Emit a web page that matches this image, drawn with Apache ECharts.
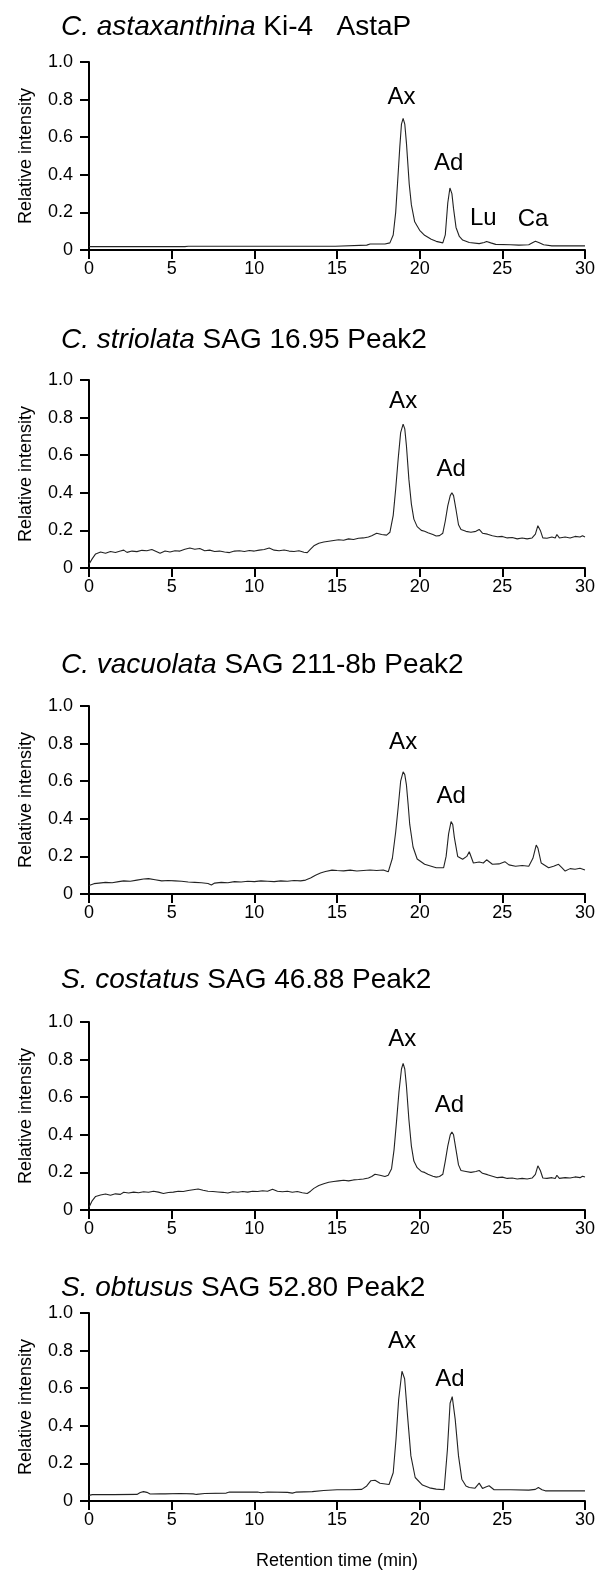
<!DOCTYPE html>
<html>
<head>
<meta charset="utf-8">
<script src="https://cdn.jsdelivr.net/npm/echarts@6/dist/echarts.min.js"></script>
<style>
  html, body { margin: 0; padding: 0; background: #fff; }
  #main { width: 598px; height: 1571px; }
</style>
</head>
<body>
<div id="main"></div>
<script>
// panel titles: [italic species, rest]
var speciesNames = ['C. astaxanthina', 'C. striolata', 'C. vacuolata', 'S. costatus', 'S. obtusus'];
var strainNames = ['Ki-4   AstaP', 'SAG 16.95 Peak2', 'SAG 211-8b Peak2', 'SAG 46.88 Peak2', 'SAG 52.80 Peak2'];

var xTicks = [0, 5, 10, 15, 20, 25, 30];
var yTicks = [0, 0.2, 0.4, 0.6, 0.8, 1.0];

// chromatograms, [retention time (min), relative intensity]
var traceAstaxanthina = [[0,0.018],[3,0.018],[5.8,0.018],[6.0,0.02],[8.5,0.02],[9.5,0.02],[12,0.02],[14.9,0.02],
  [15.0,0.026],[16.8,0.026],[17.0,0.032],[17.9,0.032],[18.2,0.038],[18.4,0.08],[18.55,0.2],[18.68,0.38],[18.8,0.55],[18.9,0.67],
  [19.0,0.70],[19.1,0.67],[19.2,0.57],[19.37,0.35],[19.5,0.24],[19.7,0.15],[20.0,0.105],[20.3,0.078],[20.7,0.057],[21.0,0.046],
  [21.4,0.038],[21.55,0.08],[21.7,0.25],[21.83,0.33],[21.95,0.3],[22.05,0.22],[22.2,0.12],[22.4,0.072],[22.6,0.053],[23.0,0.04],
  [23.6,0.034],[23.9,0.04],[24.05,0.045],[24.3,0.038],[24.6,0.03],[25.5,0.028],[26.0,0.026],[26.6,0.028],[26.85,0.04],[27.0,0.046],
  [27.2,0.04],[27.5,0.028],[28,0.022],[30,0.022]];

var traceStriolata = [[0,0.02],[0.2,0.05],[0.4,0.075],[0.7,0.085],[1.0,0.078],[1.3,0.088],[1.6,0.082],[1.9,0.09],[2.1,0.095],[2.3,0.083],
  [2.6,0.09],[2.9,0.087],[3.2,0.094],[3.5,0.092],[3.8,0.098],[4.0,0.09],[4.3,0.078],[4.6,0.09],[4.9,0.085],[5.2,0.092],[5.5,0.09],
  [5.8,0.1],[6.1,0.106],[6.4,0.1],[6.7,0.104],[7.0,0.092],[7.3,0.095],[7.6,0.088],[7.9,0.09],[8.2,0.085],[8.5,0.082],[8.8,0.09],
  [9.1,0.092],[9.4,0.088],[9.7,0.093],[10.0,0.09],[10.3,0.095],[10.6,0.098],[10.9,0.106],[11.2,0.095],[11.5,0.092],[11.8,0.096],
  [12.1,0.09],[12.4,0.088],[12.7,0.092],[13.0,0.084],[13.2,0.082],[13.4,0.1],[13.6,0.118],[13.9,0.132],[14.2,0.138],[14.5,0.142],
  [14.8,0.146],[15.1,0.15],[15.4,0.148],[15.7,0.155],[16.0,0.152],[16.3,0.158],[16.6,0.16],[16.9,0.165],[17.1,0.172],[17.4,0.185],
  [17.7,0.178],[18.0,0.175],[18.2,0.19],[18.4,0.28],[18.55,0.42],[18.7,0.58],[18.85,0.72],[19.0,0.765],[19.1,0.74],[19.2,0.65],
  [19.35,0.47],[19.5,0.34],[19.65,0.26],[19.85,0.22],[20.1,0.2],[20.3,0.195],[20.5,0.188],[20.8,0.178],[21.0,0.17],[21.2,0.172],
  [21.4,0.185],[21.55,0.25],[21.7,0.33],[21.85,0.385],[21.95,0.4],[22.05,0.385],[22.2,0.31],[22.35,0.23],[22.5,0.205],[22.8,0.195],
  [23.1,0.19],[23.4,0.195],[23.6,0.205],[23.8,0.185],[24.1,0.18],[24.4,0.172],[24.7,0.166],[25.0,0.168],[25.3,0.16],[25.6,0.162],
  [25.9,0.155],[26.2,0.16],[26.5,0.155],[26.8,0.16],[27.0,0.18],[27.15,0.225],[27.3,0.2],[27.45,0.16],[27.7,0.158],[28.0,0.165],
  [28.2,0.16],[28.3,0.178],[28.45,0.16],[28.8,0.165],[29.1,0.16],[29.4,0.168],[29.7,0.165],[29.85,0.172],[30,0.165]];

var traceVacuolata = [[0,0.045],[0.3,0.055],[0.6,0.058],[1.0,0.062],[1.4,0.06],[1.8,0.066],[2.1,0.07],[2.5,0.068],[2.9,0.074],[3.3,0.08],
  [3.6,0.082],[4.0,0.076],[4.4,0.07],[4.8,0.072],[5.2,0.07],[5.6,0.068],[6.0,0.064],[6.4,0.062],[6.8,0.06],[7.2,0.056],[7.4,0.048],
  [7.6,0.058],[8.0,0.062],[8.4,0.06],[8.8,0.066],[9.2,0.064],[9.6,0.068],[10.0,0.066],[10.4,0.07],[10.8,0.068],[11.2,0.066],[11.6,0.07],
  [12.0,0.068],[12.4,0.072],[12.8,0.07],[13.1,0.074],[13.4,0.085],[13.7,0.1],[14.0,0.112],[14.3,0.12],[14.7,0.127],[15.0,0.125],
  [15.4,0.123],[15.8,0.127],[16.2,0.122],[16.6,0.125],[17.0,0.128],[17.4,0.125],[17.8,0.128],[18.1,0.118],[18.35,0.19],[18.55,0.33],
  [18.7,0.46],[18.85,0.6],[19.0,0.65],[19.1,0.635],[19.2,0.58],[19.3,0.48],[19.4,0.37],[19.6,0.25],[19.85,0.186],[20.3,0.158],
  [21.0,0.14],[21.45,0.14],[21.6,0.2],[21.75,0.32],[21.9,0.385],[22.0,0.37],[22.1,0.3],[22.3,0.2],[22.6,0.185],[22.85,0.2],[23.0,0.225],
  [23.25,0.165],[23.6,0.17],[23.85,0.165],[24.05,0.182],[24.4,0.158],[24.8,0.16],[25.15,0.172],[25.4,0.155],[25.8,0.148],[26.2,0.152],
  [26.6,0.148],[26.85,0.19],[27.05,0.26],[27.15,0.245],[27.35,0.165],[27.8,0.14],[28.1,0.148],[28.4,0.158],[28.6,0.14],[28.8,0.122],
  [29.1,0.135],[29.4,0.132],[29.7,0.137],[30,0.128]];

var traceCostatus = [[0,0.015],[0.2,0.05],[0.4,0.072],[0.7,0.08],[1.0,0.085],[1.3,0.078],[1.6,0.086],[1.9,0.083],[2.1,0.094],[2.4,0.09],
  [2.7,0.095],[3.0,0.092],[3.3,0.097],[3.6,0.094],[3.9,0.1],[4.2,0.095],[4.5,0.088],[4.8,0.093],[5.1,0.095],[5.4,0.1],[5.7,0.098],
  [6.0,0.104],[6.3,0.108],[6.6,0.112],[6.9,0.105],[7.2,0.1],[7.5,0.098],[7.8,0.096],[8.1,0.094],[8.4,0.09],[8.7,0.097],[9.0,0.094],
  [9.3,0.098],[9.6,0.095],[9.9,0.1],[10.2,0.098],[10.5,0.102],[10.8,0.1],[11.1,0.11],[11.4,0.1],[11.7,0.097],[12.0,0.1],[12.3,0.094],
  [12.6,0.098],[12.9,0.092],[13.2,0.088],[13.4,0.1],[13.6,0.115],[13.9,0.13],[14.2,0.14],[14.5,0.148],[14.8,0.152],[15.1,0.155],
  [15.4,0.158],[15.7,0.155],[16.0,0.16],[16.3,0.162],[16.6,0.165],[16.9,0.17],[17.1,0.178],[17.3,0.19],[17.6,0.185],[17.9,0.178],
  [18.1,0.185],[18.3,0.22],[18.45,0.32],[18.6,0.47],[18.75,0.63],[18.9,0.75],[19.0,0.78],[19.1,0.75],[19.2,0.66],[19.35,0.48],
  [19.5,0.34],[19.65,0.26],[19.85,0.225],[20.1,0.205],[20.3,0.2],[20.5,0.19],[20.8,0.18],[21.0,0.175],[21.2,0.178],[21.4,0.19],
  [21.55,0.26],[21.7,0.34],[21.85,0.4],[21.95,0.415],[22.05,0.4],[22.2,0.32],[22.35,0.24],[22.5,0.21],[22.8,0.205],[23.1,0.2],
  [23.4,0.205],[23.6,0.21],[23.8,0.195],[24.1,0.188],[24.4,0.18],[24.7,0.172],[25.0,0.175],[25.3,0.168],[25.6,0.17],[25.9,0.165],
  [26.2,0.168],[26.5,0.165],[26.8,0.17],[27.0,0.19],[27.15,0.235],[27.3,0.21],[27.45,0.17],[27.7,0.168],[28.0,0.172],[28.2,0.168],
  [28.3,0.185],[28.45,0.168],[28.8,0.172],[29.1,0.17],[29.4,0.176],[29.7,0.172],[29.85,0.18],[30,0.175]];

var traceObtusus = [[0,0.03],[0.2,0.034],[1.5,0.034],[2.9,0.035],[3.1,0.045],[3.3,0.05],[3.5,0.046],[3.7,0.037],[4.3,0.038],[4.4,0.032],
  [4.6,0.038],[5.5,0.04],[6.3,0.038],[6.5,0.035],[7.0,0.04],[8.3,0.042],[8.5,0.048],[9.0,0.047],[10.2,0.048],[10.4,0.044],[10.8,0.048],
  [12.0,0.046],[12.3,0.042],[12.5,0.047],[13.5,0.05],[14.2,0.056],[15.0,0.06],[15.8,0.06],[16.5,0.062],[16.8,0.08],[17.05,0.108],
  [17.3,0.11],[17.6,0.094],[18.15,0.088],[18.4,0.15],[18.57,0.33],[18.73,0.54],[18.93,0.69],[19.09,0.65],[19.27,0.45],[19.47,0.24],
  [19.73,0.125],[20.17,0.085],[20.6,0.07],[21.0,0.063],[21.48,0.06],[21.68,0.275],[21.84,0.52],[21.97,0.555],[22.15,0.434],[22.35,0.24],
  [22.55,0.116],[22.8,0.08],[23.0,0.072],[23.35,0.068],[23.6,0.095],[23.8,0.067],[24.0,0.075],[24.2,0.081],[24.5,0.06],[25.5,0.06],
  [26.6,0.058],[27.0,0.062],[27.18,0.072],[27.4,0.06],[27.6,0.054],[30,0.054]];

// peak labels, [name, time, intensity]
var peaksAstaxanthina = [['Ax', 18.9, 0.81], ['Ad', 21.75, 0.46], ['Lu', 23.85, 0.168], ['Ca', 26.86, 0.165]];
var peaksStriolata = [['Ax', 19.0, 0.885], ['Ad', 21.9, 0.525]];
var peaksVacuolata = [['Ax', 19.0, 0.805], ['Ad', 21.9, 0.52]];
var peaksCostatus = [['Ax', 18.95, 0.905], ['Ad', 21.8, 0.555]];
var peaksObtusus = [['Ax', 18.93, 0.848], ['Ad', 21.83, 0.645]];

var traces = [traceAstaxanthina, traceStriolata, traceVacuolata, traceCostatus, traceObtusus];
var peaks = [peaksAstaxanthina, peaksStriolata, peaksVacuolata, peaksCostatus, peaksObtusus];

var font = '"Liberation Sans", Arial, Helvetica, sans-serif';
var gridTops = [62, 380, 706, 1022, 1313];
var titleTops = [8, 321, 646, 961, 1269];

var chart = echarts.init(document.getElementById('main'));
var option = {
    animation: false,
    backgroundColor: '#fff',
    title: [], grid: [], xAxis: [], yAxis: [], series: []
};

for (var i = 0; i < 5; i++) {
    option.title.push({
        text: '{i|' + speciesNames[i] + '} ' + strainNames[i],
        left: 56,
        top: titleTops[i],
        textStyle: {
            fontFamily: font, fontSize: 28, fontWeight: 'normal', color: '#000',
            rich: { i: { fontFamily: font, fontSize: 28, fontStyle: 'italic', color: '#000' } }
        }
    });
    option.grid.push({ left: 89, right: 12, top: gridTops[i], height: 188 });
    option.xAxis.push({
        type: 'value', gridIndex: i, min: xTicks[0], max: xTicks[xTicks.length - 1], interval: 5,
        axisLine: { onZero: false, lineStyle: { color: '#000', width: 2 } },
        axisTick: { length: 9, lineStyle: { color: '#000', width: 2 } },
        axisLabel: { margin: 10, fontFamily: font, fontSize: 18, color: '#000' },
        splitLine: { show: false },
        name: i === 4 ? 'Retention time (min)' : '',
        nameLocation: 'middle', nameGap: 51,
        nameTextStyle: { fontFamily: font, fontSize: 18, color: '#000' }
    });
    option.yAxis.push({
        type: 'value', gridIndex: i, min: yTicks[0], max: yTicks[yTicks.length - 1], interval: 0.2,
        axisLine: { lineStyle: { color: '#000', width: 2 } },
        axisTick: { length: 9, lineStyle: { color: '#000', width: 2 } },
        axisLabel: {
            margin: 16, fontFamily: font, fontSize: 18, color: '#000',
            formatter: function (v) { return v === 0 ? '0' : v.toFixed(1); }
        },
        splitLine: { show: false },
        name: 'Relative intensity', nameLocation: 'middle', nameGap: 54, nameRotate: 90,
        nameTextStyle: { fontFamily: font, fontSize: 18, color: '#000' }
    });
    option.series.push({
        type: 'line', xAxisIndex: i, yAxisIndex: i, data: traces[i],
        showSymbol: false, symbol: 'none',
        lineStyle: { color: '#222', width: 1.1 }
    });
    option.series.push({
        type: 'scatter', xAxisIndex: i, yAxisIndex: i,
        symbolSize: 1, itemStyle: { color: 'rgba(0,0,0,0)' },
        data: peaks[i].map(function (p) { return { name: p[0], value: [p[1], p[2]] }; }),
        label: {
            show: true, position: 'inside', formatter: '{b}',
            fontFamily: font, fontSize: 24, color: '#000', opacity: 1, textBorderWidth: 0
        }
    });
}

chart.setOption(option);
</script>
</body>
</html>
